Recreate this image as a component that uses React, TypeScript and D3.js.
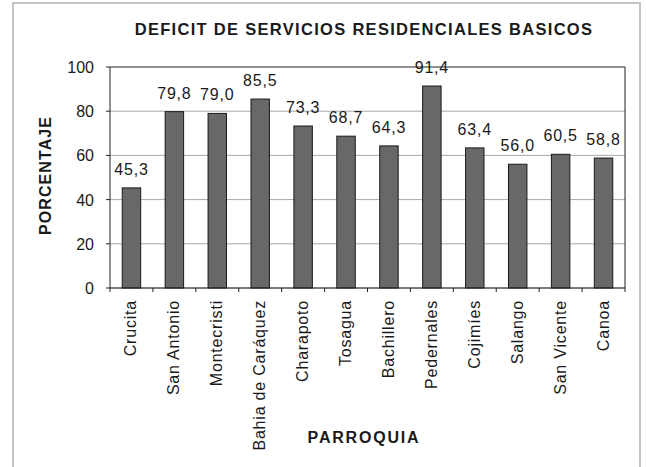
import React from "react";
import * as d3 from "d3";

const categories = ["Crucita", "San Antonio", "Montecristi", "Bahia de Caráquez", "Charapoto", "Tosagua", "Bachillero", "Pedernales", "Cojimíes", "Salango", "San Vicente", "Canoa"];
const values = [45.3, 79.8, 79.0, 85.5, 73.3, 68.7, 64.3, 91.4, 63.4, 56.0, 60.5, 58.8];
const yTicks = [0, 20, 40, 60, 80, 100];
const title = "DEFICIT DE SERVICIOS RESIDENCIALES BASICOS";
const yTitle = "PORCENTAJE";
const xTitle = "PARROQUIA";

export default function App() {
  const W = 646, H = 467;
  const left = 110, right = 625, top = 67, bottom = 288;
  const x = d3.scaleBand<string>().domain(categories).range([left, right]).paddingInner(0.57).paddingOuter(0.285);
  const band = d3.scaleBand<string>().domain(categories).range([left, right]);
  const y = d3.scaleLinear().domain([0, 100]).range([bottom, top]);
  const font = "'Liberation Sans', Arial, sans-serif";
  const fmt = (v: number) => v.toFixed(1).replace(".", ",");
  return (
    <svg width={W} height={H} style={{ position: "absolute", left: 0, top: 0, background: "#fff" }} fontFamily={font}>
      <rect x={13} y={3} width={627} height={470} fill="#fff" stroke="#c4c4c4" strokeWidth={2} />
      <text x={364} y={35} textAnchor="middle" fontSize={16.5} fontWeight="bold" letterSpacing={1.3} fill="#1a1a1a">{title}</text>
      {yTicks.map((t) => (
        <g key={t}>
          <line x1={left} x2={right} y1={y(t)} y2={y(t)} stroke={t === 100 ? "#222" : "#a8a8a8"} strokeWidth={1} />
          <line x1={left - 4} x2={left} y1={y(t)} y2={y(t)} stroke="#222" />
          <text x={left - 16} y={y(t) + 6} textAnchor="end" fontSize={16} fill="#1a1a1a">{t}</text>
        </g>
      ))}
      <line x1={right} x2={right} y1={top} y2={bottom} stroke="#222" />
      {categories.map((c, i) => (
        <text key={c} x={(x(c) as number) + x.bandwidth() / 2} y={y(values[i]) - 13} textAnchor="middle" fontSize={16} letterSpacing={0.8} fill="#1a1a1a">{fmt(values[i])}</text>
      ))}
      {categories.map((c, i) => (
        <rect key={c} x={x(c)} y={y(values[i])} width={x.bandwidth()} height={bottom - y(values[i])} fill="#686868" stroke="#1a1a1a" strokeWidth={1} />
      ))}
      <line x1={left} x2={left} y1={top} y2={bottom} stroke="#222" />
      <line x1={left} x2={right} y1={bottom} y2={bottom} stroke="#222" />
      {categories.map((c) => (
        <line key={c} x1={band(c)} x2={band(c)} y1={bottom} y2={bottom + 4} stroke="#222" />
      ))}
      <line x1={right} x2={right} y1={bottom} y2={bottom + 4} stroke="#222" />
      {categories.map((c) => {
        const cx = (band(c) as number) + band.bandwidth() / 2 + 5;
        return (
          <text key={c} transform={`translate(${cx},${bottom + 12}) rotate(-90)`} textAnchor="end" fontSize={16} letterSpacing={0.8} fill="#1a1a1a">{c}</text>
        );
      })}
      <text transform={`translate(51,${(top + bottom) / 2 - 2}) rotate(-90)`} textAnchor="middle" fontSize={16} fontWeight="bold" letterSpacing={1.1} fill="#1a1a1a">{yTitle}</text>
      <text x={364} y={443} textAnchor="middle" fontSize={16} fontWeight="bold" letterSpacing={1.8} fill="#1a1a1a">{xTitle}</text>
    </svg>
  );
}
